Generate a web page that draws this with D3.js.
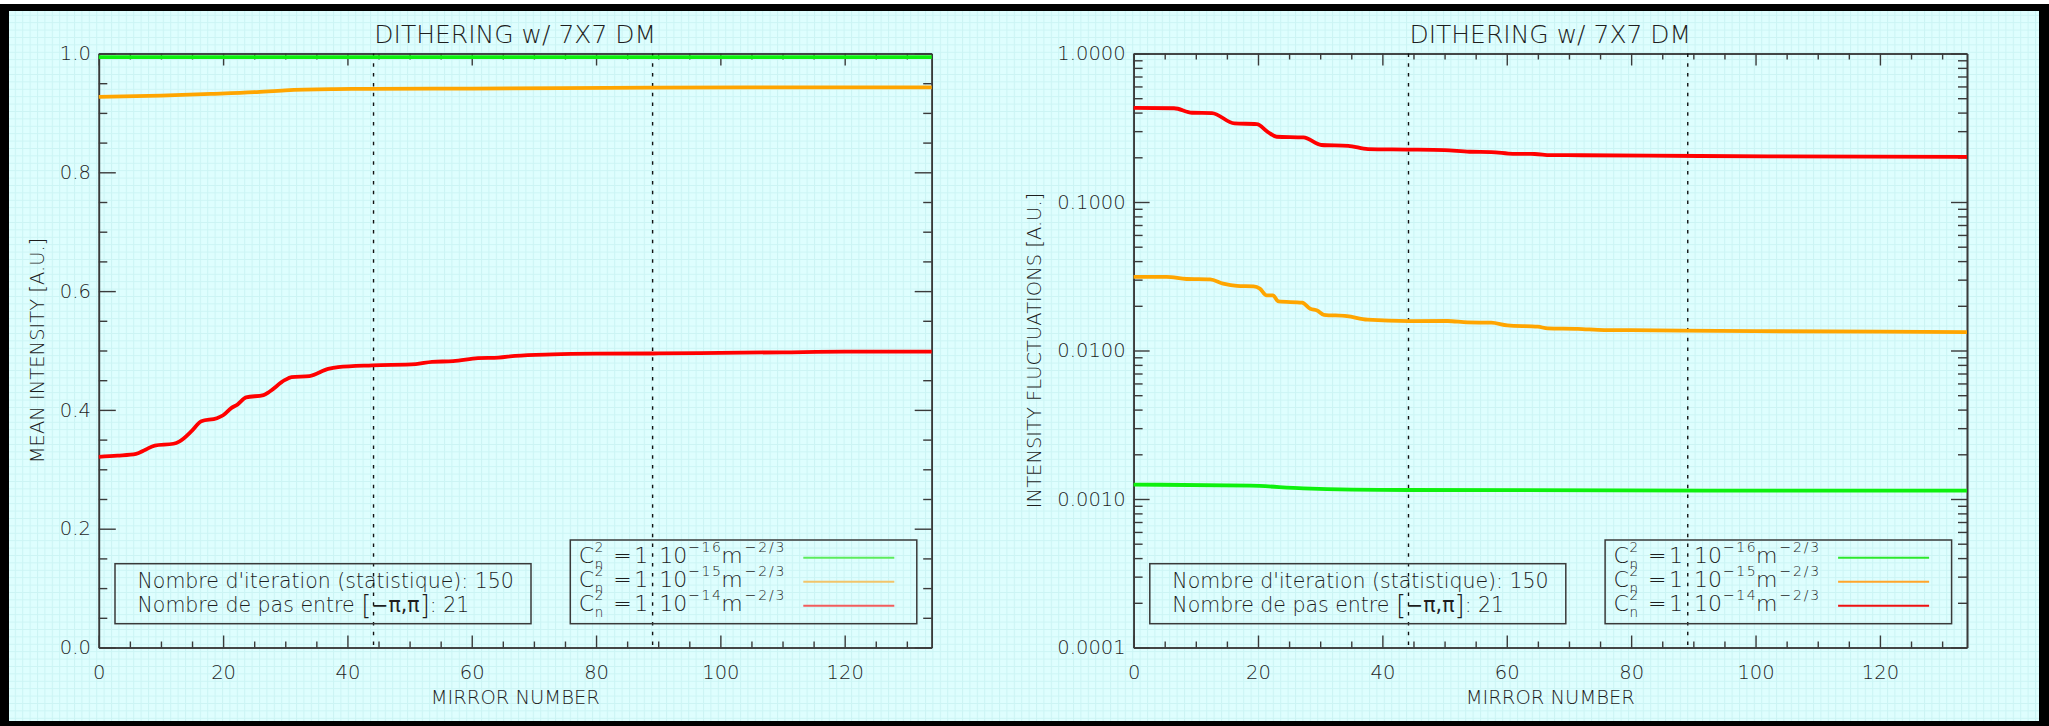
<!DOCTYPE html>
<html>
<head>
<meta charset="utf-8">
<script src="https://cdnjs.cloudflare.com/ajax/libs/d3/7.8.5/d3.min.js"></script>
<style>
  html, body { margin: 0; padding: 0; background: #ffffff; }
  svg { display: block; }
  text { font-family: "DejaVu Sans", "Liberation Sans", sans-serif; font-weight: 200; fill: #1e1e1e; }
</style>
</head>
<body>
<svg id="chart" width="2049" height="726"></svg>
<script>
// ---------------- DATA ----------------
const chartTitle = "DITHERING w/ 7X7 DM";
const xLabel = "MIRROR NUMBER";
const leftYLabel = "MEAN INTENSITY [A.U.]";
const rightYLabel = "INTENSITY FLUCTUATIONS [A.U.]";
const xDomain = [0, 134];
const xMajorTicks = [0, 20, 40, 60, 80, 100, 120];
const leftYTicks = [0.0, 0.2, 0.4, 0.6, 0.8, 1.0];
const rightYTicks = [0.0001, 0.001, 0.01, 0.1, 1.0];
const markerMirrors = [44.2, 89.1];
const seriesNames = ["C2n=1e-16", "C2n=1e-15", "C2n=1e-14"];
const seriesExponents = ["16", "15", "14"];
const seriesColors = ["#0ef00e", "#ffa500", "#ff0000"];
const legendColorsLeft = ["#5cec5c", "#f2c46a", "#f25c5c"];
const legendColorsRight = ["#2ce82c", "#ffa52a", "#ee1111"];
const infoLine1 = "Nombre d'iteration (statistique): 150";
const infoLine2a = "Nombre de pas entre ";
const infoLine2b = ": 21";

// Left panel: mean intensity
const meanGreenX = [0, 44, 89, 134];
const meanGreenY = [0.994, 0.994, 0.994, 0.994];
const meanOrangeX = [0, 10, 18, 25, 30, 38, 44, 60, 89, 110, 134];
const meanOrangeY = [0.927, 0.929, 0.932, 0.935, 0.938, 0.940, 0.9405, 0.941, 0.9424, 0.943, 0.943];
const meanRedX = [0, 3, 6, 7.5, 9, 12, 13, 15, 16.5, 19, 20, 21.3, 22.3, 23.7, 26.5, 27.5, 29.9, 31, 33.9, 36.9, 38.5, 44, 51, 53.6, 57, 61, 64.3, 67, 73, 80, 90, 100, 110, 120, 134];
const meanRedY = [0.321, 0.323, 0.326, 0.333, 0.340, 0.343, 0.347, 0.365, 0.381, 0.386, 0.391, 0.403, 0.409, 0.421, 0.425, 0.431, 0.450, 0.455, 0.457, 0.469, 0.472, 0.475, 0.477, 0.481, 0.482, 0.487, 0.488, 0.491, 0.4935, 0.4946, 0.495, 0.496, 0.497, 0.498, 0.498];

// Right panel: intensity fluctuations (log)
const flucGreenX = [0, 18.7, 27.3, 44.1, 92, 134];
const flucGreenY = [0.00125, 0.00123, 0.00118, 0.00115, 0.00114, 0.00114];
const flucOrangeX = [0, 5.3, 8.5, 12.3, 14.4, 16.6, 19.3, 20.3, 21.4, 22.4, 23.3, 27.1, 28.4, 29.5, 30.6, 34.3, 37.6, 44.3, 50.5, 53.7, 57.5, 60.1, 65, 66.6, 71.4, 75.7, 80, 100, 120, 134];
const flucOrangeY = [0.0313, 0.0313, 0.0303, 0.0301, 0.0282, 0.0272, 0.0270, 0.0261, 0.0235, 0.0235, 0.0214, 0.0210, 0.0191, 0.0186, 0.0174, 0.01705, 0.01614, 0.01578, 0.0158, 0.01546, 0.0154, 0.01476, 0.01446, 0.0141, 0.0140, 0.01373, 0.0137, 0.0135, 0.0134, 0.0133];
const flucRedX = [0, 6.5, 9.4, 12.6, 16.2, 19.8, 21.6, 23.0, 27.3, 30.2, 34.5, 37.7, 44, 50, 54, 57.5, 61, 64.5, 67, 72, 91, 134];
const flucRedY = [0.430, 0.428, 0.399, 0.397, 0.338, 0.335, 0.296, 0.275, 0.272, 0.242, 0.239, 0.227, 0.2255, 0.2235, 0.218, 0.217, 0.211, 0.2105, 0.207, 0.2064, 0.204, 0.201];

// ---------------- DRAWING ----------------
const svg = d3.select("#chart");
const W = 2049, H = 726;
const defs = svg.append("defs");
const pat = defs.append("pattern").attr("id", "grid").attr("patternUnits", "userSpaceOnUse")
  .attr("width", 7.4).attr("height", 7.4);
pat.append("rect").attr("width", 7.4).attr("height", 7.4).attr("fill", "#defefe");
pat.append("path").attr("d", "M0,0.5H7.4M0.5,0V7.4").attr("stroke", "#cbf4f4").attr("stroke-width", 1);

svg.append("rect").attr("width", W).attr("height", H).attr("fill", "#fff");
svg.append("rect").attr("x", 0).attr("y", 4).attr("width", W).attr("height", H - 4).attr("fill", "#000");
svg.append("rect").attr("x", 9).attr("y", 11).attr("width", 2030).attr("height", 710).attr("fill", "url(#grid)");

const yTop = 53.5, yBot = 647.5;
const axisColor = "#3a3a3a";

function drawPanel(opt) {
  const g = svg.append("g");
  const x = d3.scaleLinear().domain(xDomain).range([opt.x0, opt.x1]);
  const y = opt.log
    ? d3.scaleLog().domain([rightYTicks[0], rightYTicks[rightYTicks.length - 1]]).range([yBot, yTop])
    : d3.scaleLinear().domain([leftYTicks[0], leftYTicks[leftYTicks.length - 1]]).range([yBot, yTop]);

  const xMinor = d3.range(xDomain[0], xDomain[1] + 0.001, 5).filter(v => xMajorTicks.indexOf(v) < 0);
  const styleAxis = sel => {
    sel.selectAll("path.domain").attr("stroke", axisColor).attr("stroke-width", 1.6);
    sel.selectAll(".tick line").attr("stroke", axisColor).attr("stroke-width", 1.4);
    sel.selectAll("text").attr("fill", "#1e1e1e").attr("font-size", 19.5).attr("font-family", "DejaVu Sans").attr("font-weight", 200);
  };
  g.append("g").attr("transform", `translate(0,${yBot})`)
    .call(d3.axisBottom(x).tickValues(xMajorTicks).tickSizeInner(-12).tickSizeOuter(0).tickPadding(18).tickFormat(d3.format("d")))
    .call(styleAxis).call(s => s.attr("font-size", null));
  g.append("g").attr("transform", `translate(0,${yBot})`)
    .call(d3.axisBottom(x).tickValues(xMinor).tickSizeInner(-6).tickSizeOuter(0).tickFormat(""))
    .call(styleAxis);
  g.append("g").attr("transform", `translate(0,${yTop})`)
    .call(d3.axisTop(x).tickValues(xMajorTicks).tickSizeInner(-12).tickSizeOuter(0).tickFormat(""))
    .call(styleAxis);
  g.append("g").attr("transform", `translate(0,${yTop})`)
    .call(d3.axisTop(x).tickValues(xMinor).tickSizeInner(-6).tickSizeOuter(0).tickFormat(""))
    .call(styleAxis);

  let yMajor, yMinor, fmt;
  if (opt.log) {
    yMajor = rightYTicks;
    yMinor = [];
    for (let k = -4; k < 0; k++) for (let m = 2; m <= 9; m++) yMinor.push(m * Math.pow(10, k));
    fmt = d3.format(".4f");
  } else {
    yMajor = leftYTicks;
    yMinor = d3.range(0, 1.0001, 0.05).map(v => +v.toFixed(2)).filter(v => leftYTicks.indexOf(v) < 0);
    fmt = d3.format(".1f");
  }
  const majLen = opt.log ? 16 : 17, minLen = opt.log ? 9 : 8.5;
  g.append("g").attr("transform", `translate(${opt.x0},0)`)
    .call(d3.axisLeft(y).tickValues(yMajor).tickSizeInner(-majLen).tickSizeOuter(0).tickPadding(8).tickFormat(fmt))
    .call(styleAxis);
  g.append("g").attr("transform", `translate(${opt.x0},0)`)
    .call(d3.axisLeft(y).tickValues(yMinor).tickSizeInner(-minLen).tickSizeOuter(0).tickFormat(""))
    .call(styleAxis);
  g.append("g").attr("transform", `translate(${opt.x1},0)`)
    .call(d3.axisRight(y).tickValues(yMajor).tickSizeInner(-majLen).tickSizeOuter(0).tickFormat(""))
    .call(styleAxis);
  g.append("g").attr("transform", `translate(${opt.x1},0)`)
    .call(d3.axisRight(y).tickValues(yMinor).tickSizeInner(-minLen).tickSizeOuter(0).tickFormat(""))
    .call(styleAxis);

  g.selectAll("line.marker").data(markerMirrors).enter().append("line")
    .attr("x1", d => x(d)).attr("x2", d => x(d)).attr("y1", yTop).attr("y2", yBot)
    .attr("stroke", "#111").attr("stroke-width", 1.4).attr("stroke-dasharray", "3.5,6.3");

  const line = d3.line().x(d => x(d[0])).y(d => y(d[1])).curve(d3.curveMonotoneX);
  opt.series.forEach((s, i) => {
    const pts = s.xs.map((v, j) => [v, s.ys[j]]);
    g.append("path").datum(pts).attr("d", line).attr("fill", "none")
      .attr("stroke", seriesColors[i]).attr("stroke-width", 3.8).attr("stroke-linejoin", "round");
  });

  const cx = (opt.x0 + opt.x1) / 2;
  g.append("text").attr("x", cx).attr("y", 43).attr("text-anchor", "middle").attr("font-size", 25).text(chartTitle);
  g.append("text").attr("x", cx).attr("y", 704).attr("text-anchor", "middle").attr("font-size", 19.5).text(xLabel);
  g.append("text").attr("transform", `translate(${opt.yLabelX},${(yTop + yBot) / 2}) rotate(-90)`)
    .attr("text-anchor", "middle").attr("font-size", 19.5).text(opt.yLabel);

  const bx = opt.x0;
  g.append("rect").attr("x", bx + 16.2).attr("y", 563.7).attr("width", 416).attr("height", 60)
    .attr("fill", "none").attr("stroke", axisColor).attr("stroke-width", 1.5);
  g.append("text").attr("x", bx + 38.7).attr("y", 588).attr("font-size", 20.5).text(infoLine1);
  const t2 = g.append("text").attr("x", bx + 38.7).attr("y", 612).attr("font-size", 20.5);
  t2.append("tspan").text(infoLine2a);
  t2.append("tspan").attr("font-size", 26).attr("dy", 2).text("[");
  t2.append("tspan").attr("font-size", 20.5).attr("dy", -2).attr("font-weight", 400).text("\u2212\u03C0,\u03C0");
  t2.append("tspan").attr("font-size", 26).attr("dy", 2).text("]");
  t2.append("tspan").attr("font-size", 20.5).attr("dy", -2).text(infoLine2b);

  g.append("rect").attr("x", bx + 471.5).attr("y", 540).attr("width", 346.5).attr("height", 83.7)
    .attr("fill", "none").attr("stroke", axisColor).attr("stroke-width", 1.5);
  seriesExponents.forEach((e, i) => {
    const tx = bx + 480, ty = 563.3 + 24 * i;
    const add = (dx, dy, size, str) => g.append("text").attr("x", tx + dx).attr("y", ty + dy).attr("font-size", size).text(str);
    add(0, 0, 22, "C");
    add(16, -11.5, 13.5, "2");
    add(16, 5.5, 13.5, "n");
    add(34.5, 0, 22, "=");
    add(55.5, 0, 22, "1");
    add(80.5, 0, 22, "10");
    g.append("text").attr("x", tx + 109.5).attr("y", ty - 11.5).attr("font-size", 14).attr("letter-spacing", 1.5).text("\u2212" + e);
    add(142.5, 0, 22, "m");
    g.append("text").attr("x", tx + 166).attr("y", ty - 11.5).attr("font-size", 14).attr("letter-spacing", 1.8).text("\u22122/3");
    g.append("line").attr("x1", bx + 704.5).attr("x2", bx + 795.5)
      .attr("y1", 557.7 + 24 * i).attr("y2", 557.7 + 24 * i)
      .attr("stroke", opt.legendColors[i]).attr("stroke-width", 2);
  });
}

drawPanel({
  x0: 98.8, x1: 931.7, log: false, yLabel: leftYLabel, yLabelX: 44,
  legendColors: legendColorsLeft,
  series: [
    { xs: meanGreenX, ys: meanGreenY },
    { xs: meanOrangeX, ys: meanOrangeY },
    { xs: meanRedX, ys: meanRedY }
  ]
});
drawPanel({
  x0: 1133.6, x1: 1967, log: true, yLabel: rightYLabel, yLabelX: 1041,
  legendColors: legendColorsRight,
  series: [
    { xs: flucGreenX, ys: flucGreenY },
    { xs: flucOrangeX, ys: flucOrangeY },
    { xs: flucRedX, ys: flucRedY }
  ]
});
</script>
</body>
</html>
